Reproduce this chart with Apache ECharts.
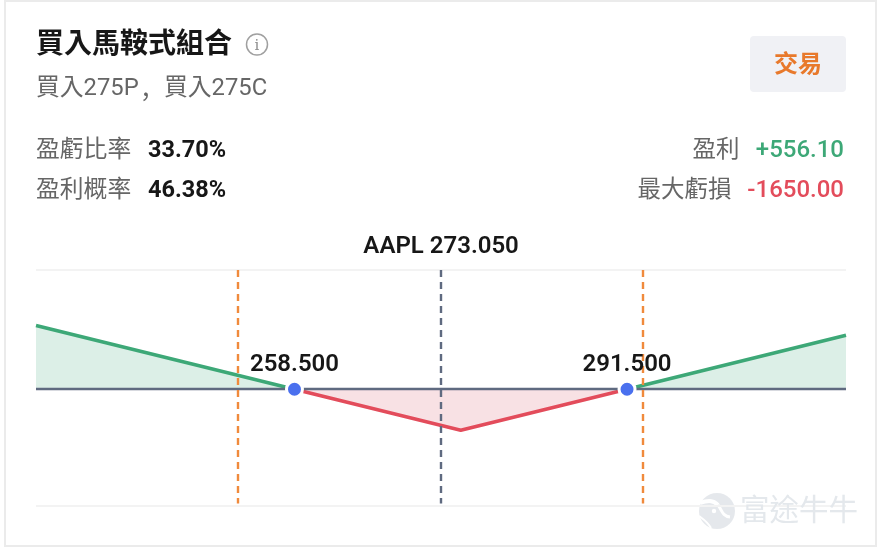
<!DOCTYPE html>
<html>
<head>
<meta charset="utf-8">
<style>html,body{margin:0;padding:0;background:#fff}#chart{width:878px;height:548px}</style>
<script src="https://cdn.jsdelivr.net/npm/echarts@6/dist/echarts.min.js"></script>
</head>
<body>
<div id="chart"></div>
<script>
// Long straddle payoff at expiry
const xRange = [232.85, 313.23];
const yRange = [-4700, 4800];
const profitLeft = [[232.85, 2565], [258.5, 0]];
const lossMiddle = [[258.5, 0], [275, -1650], [291.5, 0]];
const profitRight = [[291.5, 0], [313.23, 2173]];
const breakEvens = [258.5, 291.5];
const currentPrice = 273.05;
const ticker = 'AAPL';
const expectedMove = [252.9, 293.1];
const guideBottom = -4600;

const strategyName = '買入馬鞍式組合';
const strategyLegs = ['買入275P', '，', '買入275C'];
const tradeLabel = '交易';
const statsLeft = [['盈虧比率', '33.70%'], ['盈利概率', '46.38%']];
const profitLabel = ['盈利', '+556.10'];
const lossLabel = ['最大虧損', '-1650.00'];
const brandName = '富途牛牛';

const SANS = 'Roboto, "Noto Sans CJK TC", sans-serif';
const GREEN = '#3da877', RED = '#e34c5b', ORANGE = '#f08a3c', SLATE = '#5f6a80', BLUE = '#4a70ee';
const GREY_TEXT = '#666666', DARK = '#171717';

function txt(x, y, text, size, color, weight, align, family) {
  return { type: 'text', x, y, z: 20, style: {
    text, fontSize: size, fill: color, fontWeight: weight || 400,
    fontFamily: family || SANS, align: align || 'left', verticalAlign: 'middle'
  }};
}

function curve(x1, y1, cpx1, cpy1, cpx2, cpy2, x2, y2, width) {
  return { type: 'bezierCurve', shape: { x1, y1, cpx1, cpy1, cpx2, cpy2, x2, y2 },
    style: { fill: 'none', stroke: '#fff', lineWidth: width } };
}

function vertical(x, color) {
  return [{ coord: [x, yRange[1]], lineStyle: { color, type: [7, 5], width: 2.4 } }, { coord: [x, guideBottom] }];
}

const chart = echarts.init(document.getElementById('chart'), null, { renderer: 'canvas' });
chart.setOption({
  animation: false,
  backgroundColor: '#fff',
  grid: { left: 36, right: 32, top: 270, height: 236 },
  xAxis: { type: 'value', min: xRange[0], max: xRange[1], show: false },
  yAxis: { type: 'value', min: yRange[0], max: yRange[1], show: false },
  graphic: [
    { type: 'rect', z: 0, shape: { x: 5, y: 1, width: 871, height: 545 }, style: { fill: 'none', stroke: '#ebebeb', lineWidth: 2 } },
    txt(36, 46, strategyName, 28, DARK, 600),
    { type: 'circle', z: 20, shape: { cx: 257, cy: 44.5, r: 10.5 }, style: { fill: 'none', stroke: '#a0a0a0', lineWidth: 1.5 } },
    { type: 'text', z: 20, x: 257, y: 46, style: { text: 'i', fontSize: 15, fill: '#8c8c8c', fontFamily: '"DejaVu Serif", serif', align: 'center', verticalAlign: 'middle' } },
    txt(36, 89, strategyLegs[0], 23.8, GREY_TEXT),
    txt(140, 89, strategyLegs[1], 24, GREY_TEXT, 400, 'left', '"Noto Sans CJK SC", sans-serif'),
    txt(164, 89, strategyLegs[2], 23.8, GREY_TEXT),
    { type: 'rect', z: 10, shape: { x: 750, y: 36, width: 96, height: 56, r: 4 }, style: { fill: '#f0f1f5' } },
    txt(798, 66, tradeLabel, 24, '#e8792b', 700, 'center'),
    txt(36, 151, statsLeft[0][0], 23.8, GREY_TEXT),
    txt(148, 151, statsLeft[0][1], 23.5, DARK, 700),
    txt(36, 191, statsLeft[1][0], 23.8, GREY_TEXT),
    txt(148, 191, statsLeft[1][1], 23.5, DARK, 700),
    txt(739.5, 151, profitLabel[0], 23.5, GREY_TEXT, 400, 'right'),
    txt(844, 151, profitLabel[1], 24, GREEN, 500, 'right'),
    txt(731.5, 191, lossLabel[0], 23.5, GREY_TEXT, 400, 'right'),
    txt(844, 191, lossLabel[1], 24, RED, 500, 'right'),
    // brand mark in the lower right corner
    { type: 'group', z: 30, silent: true, children: [
      { type: 'circle', shape: { cx: 717, cy: 511, r: 18 }, style: { fill: '#e2e6ea', opacity: 0.9 } },
      curve(700, 503, 708, 500, 713, 500, 718, 505, 4),
      curve(718, 505, 722, 510, 722, 516, 730, 517, 3),
      { type: 'circle', shape: { cx: 714, cy: 511, r: 2.2 }, style: { fill: '#fff' } },
      curve(699, 516, 703, 519, 707, 521, 711, 528, 2)
    ]},
    { type: 'text', z: 30, x: 740, y: 513, silent: true, style: { text: brandName, fontSize: 29.5, fill: '#e4e8ec', fontFamily: SANS, align: 'left', verticalAlign: 'middle' } }
  ],
  series: [
    {
      type: 'line', name: 'guides', z: 3, data: [], symbol: 'none',
      markLine: {
        silent: true, symbol: 'none', z: 3, animation: false,
        label: { show: false },
        data: [
          [{ coord: [xRange[0], yRange[1]], lineStyle: { color: '#f3f3f3', width: 2, type: 'solid' } }, { coord: [xRange[1], yRange[1]] }],
          [{ coord: [xRange[0], yRange[0]], lineStyle: { color: '#f3f3f3', width: 2, type: 'solid' } }, { coord: [xRange[1], yRange[0]] }]
        ]
      }
    },
    { type: 'line', name: 'profit-left', z: 4, data: profitLeft, symbol: 'none', lineStyle: { color: GREEN, width: 3.6 }, areaStyle: { color: '#dcefe7', opacity: 1, origin: 0 } },
    { type: 'line', name: 'loss', z: 4, data: lossMiddle, symbol: 'none', lineStyle: { color: RED, width: 3.6 }, areaStyle: { color: '#f8e1e4', opacity: 1, origin: 0 } },
    { type: 'line', name: 'profit-right', z: 4, data: profitRight, symbol: 'none', lineStyle: { color: GREEN, width: 3.6 }, areaStyle: { color: '#dcefe7', opacity: 1, origin: 0 } },
    {
      type: 'line', name: 'zero-and-strikes', z: 5, data: [], symbol: 'none',
      markLine: {
        silent: true, symbol: 'none', z: 5, animation: false,
        label: { show: false },
        data: [
          [{ coord: [xRange[0], 0], lineStyle: { color: SLATE, width: 2.4, type: 'solid' } }, { coord: [xRange[1], 0] }],
          vertical(expectedMove[0], ORANGE),
          vertical(expectedMove[1], ORANGE),
          [
            { coord: [currentPrice, yRange[1]], lineStyle: { color: SLATE, width: 2.4, type: [7, 5] },
              label: { show: true, formatter: ticker + ' ' + currentPrice.toFixed(3), position: 'start', distance: 11,
                fontSize: 24, fontWeight: 600, color: DARK, fontFamily: SANS } },
            { coord: [currentPrice, guideBottom] }
          ]
        ]
      }
    },
    {
      type: 'scatter', name: 'break-even', z: 10,
      data: breakEvens.map(v => [v, 0]),
      symbol: 'circle', symbolSize: 16,
      itemStyle: { color: BLUE, borderColor: '#fff', borderWidth: 3, opacity: 1 },
      label: { show: true, position: 'top', distance: 3, fontSize: 24, fontWeight: 600, color: DARK, fontFamily: SANS,
        formatter: p => p.value[0].toFixed(3) }
    }
  ]
});
</script>
</body>
</html>
